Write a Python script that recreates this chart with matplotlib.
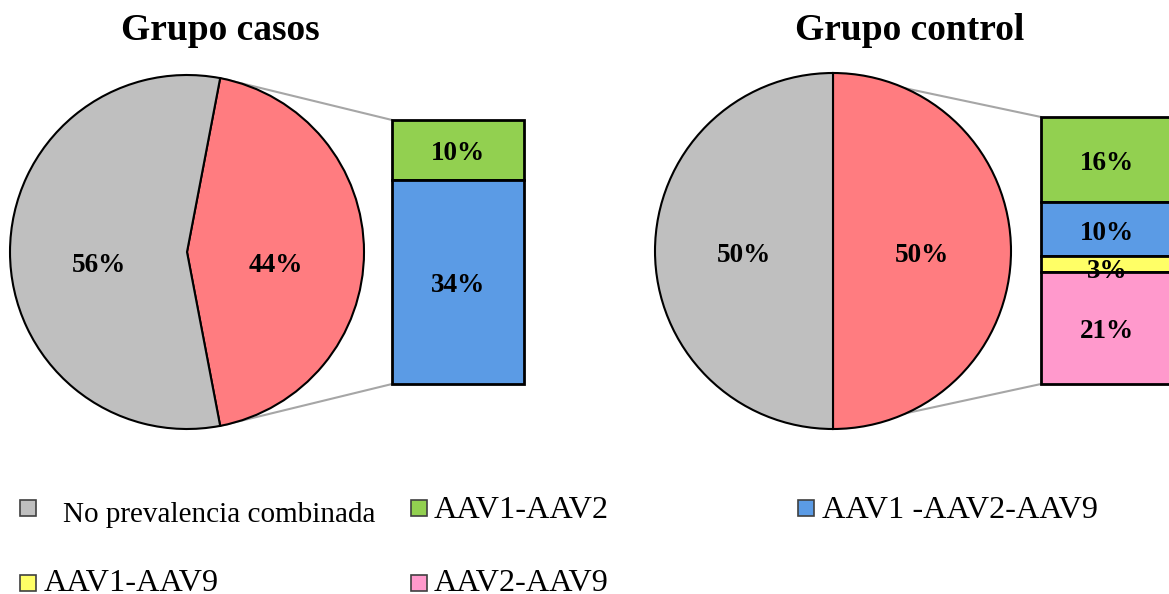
import numpy as np
import matplotlib
matplotlib.use("Agg")
import matplotlib.pyplot as plt
from matplotlib.patches import Rectangle

plt.rcParams["font.family"] = ["Liberation Serif", "DejaVu Serif"]

W, H = 1169, 594

# ---- datos ----
titulos = ["Grupo casos", "Grupo control"]
casos_pie = [44, 56]       # [prevalencia combinada, no prevalencia combinada]
control_pie = [50, 50]
casos_bar = [10, 34]       # AAV1-AAV2, AAV1 -AAV2-AAV9
control_bar = [16, 10, 3, 21]  # AAV1-AAV2, AAV1 -AAV2-AAV9, AAV1-AAV9, AAV2-AAV9

leyenda = ["No prevalencia combinada", "AAV1-AAV2", "AAV1 -AAV2-AAV9",
           "AAV1-AAV9", "AAV2-AAV9"]

GRIS = "#BFBFBF"
ROJO = "#FF7C80"
BAR_COLORES = ["#92D050", "#5B9BE5", "#FFFF66", "#FF99CC"]
LINEA = "#A6A6A6"


def Y(py):
    """pixel desde arriba -> coordenada de datos"""
    return H - py


def pie_de_barra(ax, pie_vals, bar_vals, cx, cy, r, bx, btop, bbot, bw,
                 label_dy=0):
    # la porcion desglosada queda centrada a la derecha
    start = -pie_vals[0] * 3.6 / 2
    _, _, autotexts = ax.pie(
        pie_vals, colors=[ROJO, GRIS], startangle=start, counterclock=True,
        center=(cx, Y(cy)), radius=r,
        autopct=lambda p: f"{p:.0f}%", pctdistance=0.5,
        wedgeprops=dict(edgecolor="black", linewidth=1.5),
        textprops=dict(fontsize=19.5, fontweight="bold", color="black"))
    for t in autotexts:
        x, y = t.get_position()
        t.set_position((x, y - label_dy))

    # lineas de union entre circulo y barra
    a_top = np.deg2rad(start + pie_vals[0] * 3.6)
    a_bot = np.deg2rad(start)
    ax.plot([cx + r * np.cos(a_top), bx], [Y(cy) + r * np.sin(a_top), Y(btop)],
            color=LINEA, lw=1.5, zorder=0)
    ax.plot([cx + r * np.cos(a_bot), bx], [Y(cy) + r * np.sin(a_bot), Y(bbot)],
            color=LINEA, lw=1.5, zorder=0)

    # barra apilada de arriba hacia abajo
    escala = (bbot - btop) / sum(bar_vals)
    y = Y(btop)
    for v, c in zip(bar_vals, BAR_COLORES):
        h = v * escala
        ax.bar(bx + bw / 2, h, bottom=y - h, width=bw, color=c,
               edgecolor="black", linewidth=2)
        ax.text(bx + bw / 2, y - h / 2 - (8 if v < 5 else 4), f"{v}%",
                ha="center", va="center", fontsize=19.5, fontweight="bold")
        y -= h


fig = plt.figure(figsize=(W / 100, H / 100), dpi=100)
ax = fig.add_axes([0, 0, 1, 1])

pie_de_barra(ax, casos_pie, casos_bar, 187, 252, 177, 392, 120, 384, 132,
             label_dy=13)
pie_de_barra(ax, control_pie, control_bar, 833, 251, 178, 1041, 117, 384, 132,
             label_dy=4)

ax.text(220, Y(40), titulos[0], ha="center", va="baseline",
        fontsize=27, fontweight="bold")
ax.text(910, Y(40), titulos[1], ha="center", va="baseline",
        fontsize=27, fontweight="bold")

# leyenda
leg_colores = [GRIS] + BAR_COLORES
# (x cuadro, y cuadro arriba, x texto, linea base, tamano)
leg_pos = [(20, 500, 63, 522, 21), (411, 500, 434, 518, 23.2),
           (798, 500, 822, 518, 23.2), (20, 575, 44, 591, 23.2),
           (411, 575, 434, 591, 23.2)]
for txt, col, (mx, my, tx, ty, fs) in zip(leyenda, leg_colores, leg_pos):
    ax.add_patch(Rectangle((mx, Y(my) - 16), 16, 16, facecolor=col,
                           edgecolor="#404040", linewidth=1.2))
    ax.text(tx, Y(ty), txt, ha="left", va="baseline", fontsize=fs)

ax.set_xlim(0, W)
ax.set_ylim(0, H)
ax.set_aspect("equal")
ax.axis("off")

fig.savefig("out.png", dpi=100)
